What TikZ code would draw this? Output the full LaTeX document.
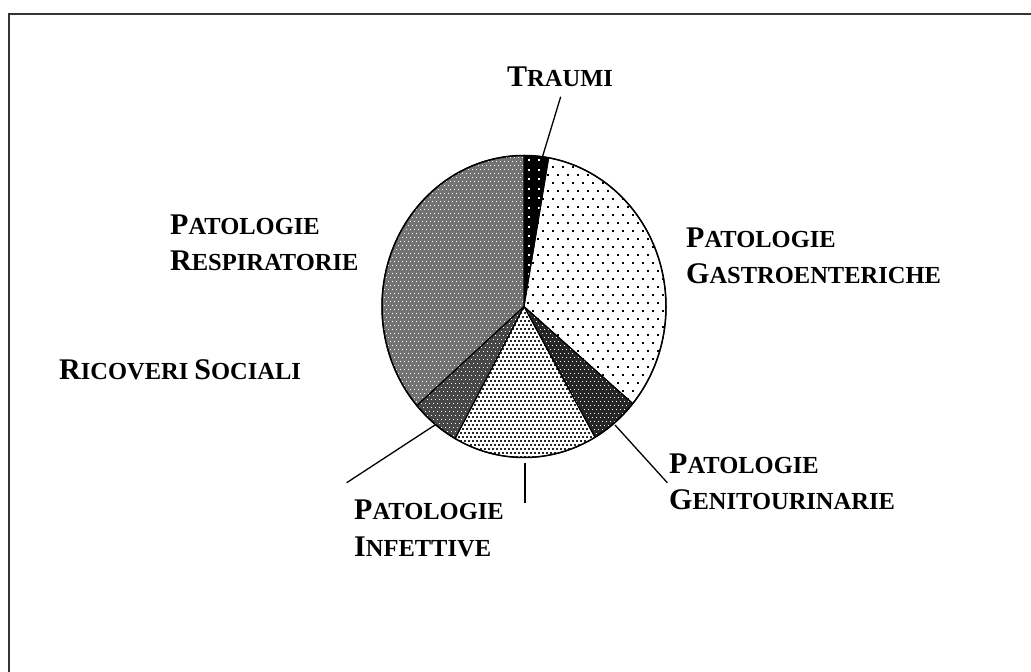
\documentclass[tikz,border=0pt]{standalone}
\usepackage{fontspec}
\setmainfont{Liberation Serif}
\newcommand\sclab[2]{{\fontsize{30}{36}\selectfont #1}{\fontsize{24.5}{30}\selectfont #2}}
\begin{document}
\begin{tikzpicture}[x=1pt,y=1pt,
  lab/.style={anchor=base west,inner sep=0pt,font=\bfseries},
  leader/.style={draw=black,line width=1.3pt},
  slice/.style={draw=black,line width=1pt,line join=round}]
\useasboundingbox (0,0) rectangle (1031,672);
\fill[white] (0,0) rectangle (1031,672);
% frame
\draw[line width=2pt,black!80] (9,0) -- (9,658) -- (1031,658);
\coordinate (C) at (524,365.5);
% Traumi 80-90
\begin{scope}
 \clip (C) -- ++(80:142pt and 151pt) arc[start angle=80,end angle=90,x radius=142pt,y radius=151pt] -- cycle;
 \fill[black] (515,360) rectangle (555,520);
 \foreach \j in {0,...,16}{\pgfmathsetmacro\yy{368+\j*9.5}
   \foreach \i in {0,1,2}{\pgfmathsetmacro\xx{528+\i*10}
   \fill[white] (\xx,\yy) rectangle ++(2,2);}}
\end{scope}
% Gastro -40..80
\begin{scope}
 \clip (C) -- ++(-40:142pt and 151pt) arc[start angle=-40,end angle=80,x radius=142pt,y radius=151pt] -- cycle;
 \fill[white] (520,260) rectangle (670,520);
 \foreach \j in {0,...,32}{\pgfmathsetmacro\yy{264+\j*8}\pgfmathsetmacro\off{mod(\j,2)*5}
   \foreach \i in {0,...,15}{\pgfmathsetmacro\xx{522+\i*10+\off}
   \fill[black] (\xx,\yy) rectangle ++(1.8,1.8);}}
\end{scope}
% Genito -60..-40
\begin{scope}
 \clip (C) -- ++(-60:142pt and 151pt) arc[start angle=-60,end angle=-40,x radius=142pt,y radius=151pt] -- cycle;
 \fill[black!85] (520,210) rectangle (640,370);
 \foreach \j in {0,...,39}{\pgfmathsetmacro\yy{210+\j*4}\pgfmathsetmacro\off{mod(\j,2)*2}
   \foreach \i in {0,...,29}{\pgfmathsetmacro\xx{522+\i*4+\off}
   \fill[white] (\xx,\yy) rectangle ++(1.1,1.1);}}
\end{scope}
% Infettive 241..300
\begin{scope}
 \clip (C) -- ++(241:142pt and 151pt) arc[start angle=241,end angle=300,x radius=142pt,y radius=151pt] -- cycle;
 \fill[white] (450,210) rectangle (600,370);
 \foreach \j in {0,...,39}{\pgfmathsetmacro\yy{210+\j*4}\pgfmathsetmacro\off{mod(\j,2)*2}
   \foreach \i in {0,...,37}{\pgfmathsetmacro\xx{450+\i*4+\off}
   \fill[black!85] (\xx,\yy) rectangle ++(1.7,1.7);}}
\end{scope}
% Ricoveri 221..241
\begin{scope}
 \clip (C) -- ++(221:142pt and 151pt) arc[start angle=221,end angle=241,x radius=142pt,y radius=151pt] -- cycle;
 \fill[black!72] (405,220) rectangle (530,370);
 \foreach \j in {0,...,37}{\pgfmathsetmacro\yy{220+\j*4}\pgfmathsetmacro\off{mod(\j,2)*2}
   \foreach \i in {0,...,31}{\pgfmathsetmacro\xx{405+\i*4+\off}
   \fill[white] (\xx,\yy) rectangle ++(1.2,1.2);}}
\end{scope}
% Respiratorie 90..221
\begin{scope}
 \clip (C) -- ++(90:142pt and 151pt) arc[start angle=90,end angle=221,x radius=142pt,y radius=151pt] -- cycle;
 \fill[black!55] (378,258) rectangle (528,520);
 \foreach \j in {0,...,65}{\pgfmathsetmacro\yy{258+\j*4}\pgfmathsetmacro\off{mod(\j,2)*2}
   \foreach \i in {0,...,37}{\pgfmathsetmacro\xx{378+\i*4+\off}
   \fill[white] (\xx,\yy) rectangle ++(1.3,1.3);}}
\end{scope}
% slice borders
\foreach \a/\b in {80/90,-40/80,-60/-40,241/300,221/241,90/221}{
 \draw[slice] (C) -- ++(\a:142pt and 151pt) arc[start angle=\a,end angle=\b,x radius=142pt,y radius=151pt] -- cycle;}
\draw[line width=1.5pt] (C) ellipse [x radius=142pt,y radius=151pt];
% leader coordinates
\coordinate (tA) at (542.7,516);   \coordinate (tB) at (560.7,575.3);
\coordinate (gA) at (615,247);     \coordinate (gB) at (667.3,189.3);
\coordinate (rA) at (435,247);     \coordinate (rB) at (346.7,189.3);
\coordinate (iA) at (525,208.7);   \coordinate (iB) at (525,169.3);
\draw[leader] (tA) -- (tB);
\draw[leader] (gA) -- (gB);
\draw[leader] (rA) -- (rB);
\draw[leader] (iA) -- (iB);
% labels
\node[lab] (traumi) at (507,585.3) {\sclab{T}{RAUMI}};
\node[lab] (gas1) at (686,424.7) {\sclab{P}{ATOLOGIE}};
\node[lab] (gas2) at (686,388) {\sclab{G}{ASTROENTERICHE}};
\node[lab] (gen1) at (669,198.7) {\sclab{P}{ATOLOGIE}};
\node[lab] (gen2) at (669,162) {\sclab{G}{ENITOURINARIE}};
\node[lab] (inf1) at (354,152) {\sclab{P}{ATOLOGIE}};
\node[lab] (inf2) at (354,115.3) {\sclab{I}{NFETTIVE}};
\node[lab] (res1) at (170,437) {\sclab{P}{ATOLOGIE}};
\node[lab] (res2) at (170,401.3) {\sclab{R}{ESPIRATORIE}};
\node[lab] (ric) at (59,292.7) {\sclab{R}{ICOVERI}\hspace{6pt}\sclab{S}{OCIALI}};
\end{tikzpicture}
\end{document}
